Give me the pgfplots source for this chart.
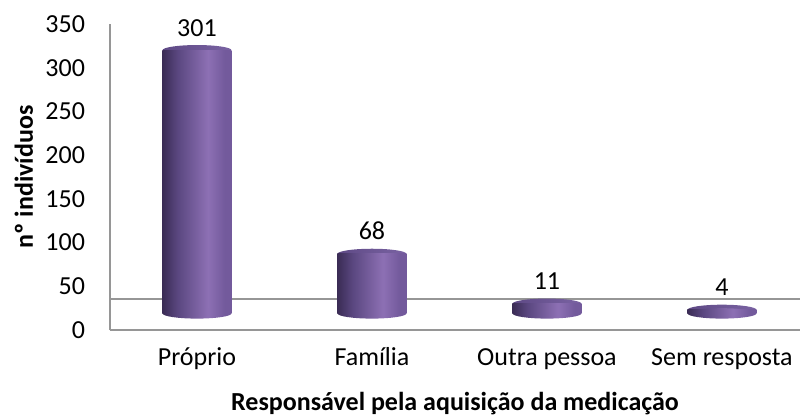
\documentclass[border=0pt]{standalone}
\usepackage{pgfplots}
\pgfplotsset{compat=1.18}
\usepackage{fontspec}
\setmainfont{Carlito}
\definecolor{cylA}{HTML}{3B2C55}
\definecolor{cylB}{HTML}{5A4780}
\definecolor{cylC}{HTML}{8D70B4}
\definecolor{cylD}{HTML}{735A9C}
\definecolor{topA}{HTML}{5E4985}
\definecolor{topB}{HTML}{7A63A3}
\definecolor{axgray}{HTML}{969696}
\pgfdeclarehorizontalshading{cyl}{100bp}{color(0bp)=(cylA); color(25bp)=(cylA); color(36bp)=(cylB); color(58bp)=(cylC); color(70bp)=(cylD); color(75bp)=(cylD); color(100bp)=(cylD)}
\pgfdeclarehorizontalshading{cyltop}{100bp}{color(0bp)=(topA); color(25bp)=(topA); color(75bp)=(topB); color(100bp)=(topB)}
\pgfdeclareplotmark{ellbot}{\pgfpathellipse{\pgfpointorigin}{\pgfpoint{17.25pt}{0pt}}{\pgfpoint{0pt}{2.6pt}}\pgfshadepath{cyl}{0}\pgfusepath{}}
\pgfdeclareplotmark{elltop}{\pgfpathellipse{\pgfpointorigin}{\pgfpoint{17.25pt}{0pt}}{\pgfpoint{0pt}{2.6pt}}\pgfshadepath{cyltop}{0}\pgfusepath{}}
\pgfplotsset{
  geom/.style={
    scale only axis,
    width=345pt, height=153pt,
    at={(0,0)}, anchor=south west,
    xmin=-0.497, xmax=3.446,
    ymin=0, ymax=350,
    clip=false,
  },
  cylaxis/.style={
    geom, hide axis,
    stack plots=y,
    clip marker paths=true,
    /pgf/number format/assume math mode=true,
  },
  basebar/.style={ybar, bar width=34.5pt, bar shift=0pt, draw=none, fill=none, mark=ellbot},
  bodybar/.style={ybar, bar width=34.5pt, bar shift=0pt, draw=none, shade, shading=cyl,
    point meta=explicit symbolic,
    nodes near coords, nodes near coords style={anchor=base, yshift=7pt, color=black, font=\fontsize{13}{15}\selectfont}},
  topbar/.style={ybar, bar width=34.5pt, bar shift=0pt, draw=none, fill=none, mark=elltop},
}
\begin{document}
\fontsize{13}{15}\selectfont
\begin{tikzpicture}
% frame, ticks and labels
\begin{axis}[
  geom,
  ytick={0,50,...,350},
  xtick={0,1,2,3},
  xticklabels={Próprio,Família,Outra pessoa,Sem resposta},
  major tick length=0pt,
  axis x line=bottom, axis y line=left,
  axis line style={-, axgray, line width=1pt},
  extra y ticks={35.5}, extra y tick labels={},
  extra y tick style={grid=major, major grid style={axgray, line width=1pt}},
  /pgf/number format/assume math mode=true,
  yticklabel style={anchor=east, xshift=-8pt},
  xticklabel style={anchor=base, yshift=-17.5pt},
  every axis y label/.style={at={(axis description cs:-0.1116,0.5)}, rotate=90, anchor=base, font=\bfseries},
  every axis x label/.style={at={(axis description cs:0.5,-0.262)}, anchor=base, font=\bfseries},
  ylabel={nº indivíduos},
  xlabel={Responsável pela aquisição da medicação},
]
\end{axis}
% Próprio
\begin{axis}[cylaxis]
\addplot[basebar] coordinates {(0,19)};
\addplot[bodybar] coordinates {(0,301) [301]};
\addplot[topbar] coordinates {(0,0)};
\end{axis}
% Família
\begin{axis}[cylaxis]
\addplot[basebar] coordinates {(1,19)};
\addplot[bodybar] coordinates {(1,68) [68]};
\addplot[topbar] coordinates {(1,0)};
\end{axis}
% Outra pessoa
\begin{axis}[cylaxis]
\addplot[basebar] coordinates {(2,19)};
\addplot[bodybar] coordinates {(2,11) [11]};
\addplot[topbar] coordinates {(2,0)};
\end{axis}
% Sem resposta
\begin{axis}[cylaxis]
\addplot[basebar] coordinates {(3,19)};
\addplot[bodybar] coordinates {(3,4) [4]};
\addplot[topbar] coordinates {(3,0)};
\end{axis}
\pgfresetboundingbox
\useasboundingbox (-55pt,-42pt) rectangle (345pt,165pt);
\end{tikzpicture}
\end{document}
